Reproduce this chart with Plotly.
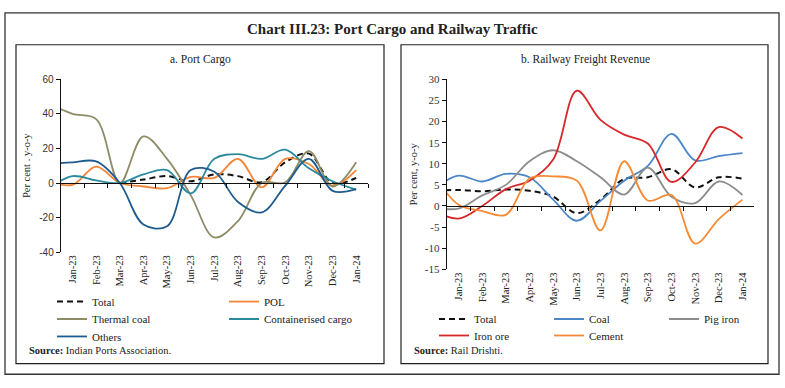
import plotly.graph_objects as go

# ---------------- data ----------------
# leading "Dec-22" point sits left of the visible axis range (lines run in from the axis edge)
months = ["Dec-22", "Jan-23", "Feb-23", "Mar-23", "Apr-23", "May-23", "Jun-23", "Jul-23",
          "Aug-23", "Sep-23", "Oct-23", "Nov-23", "Dec-23", "Jan-24"]

# Panel a: Port Cargo (per cent, y-o-y)
port_total = [None, None, None, 0, 2, 4, 1, 5, 4, 0.5, 12, 17, 0, 3]
port_pol = [1, -1, 9.5, 0, -2, -3, 3.5, 3, 14, -2.5, 14, 11, -1.5, 7.5]
port_thermal = [46, 40, 37, 0, 27, 14, -7, -31.5, -22, 0, 0.4, 18.5, -2, 12]
port_container = [-3, 4, 1.5, 0, 5, 7.5, -6, 14, 16.7, 14, 19.3, 8.5, 1, -3.8]
port_others = [11, 12, 12.5, 0, -24, -25, 7.5, 6.5, -11, -17, -1.5, 14, -4.5, -3.5]

# Panel b: Railway Freight Revenue (per cent, y-o-y)
rail_total = [3.6, 3.8, 3.5, 3.9, 3.6, 2.2, -1.7, 1.5, 6.4, 6.8, 8.7, 4.4, 6.8, 6.5]
rail_coal = [4.2, 7.2, 5.8, 7.6, 6.8, 1.5, -3.5, 1.2, 6, 9.5, 17.1, 10.8, 11.8, 12.5]
rail_pig = [-0.4, -0.6, 2.5, 5, 10.6, 13.2, 10.6, 6.8, 2.7, 9.1, 2.2, 0.7, 5.8, 2.6]
rail_ironore = [-1.3, -3, 0, 4, 6, 11, 27.3, 20.4, 16.9, 14.8, 5.7, 10.3, 18.7, 16]
rail_cement = [7, 0.3, -1.2, -2.1, 6.5, 7, 6, -5.8, 10.6, 1.3, 2.6, -8.9, -3.1, 1.5]

# axis ticks
port_ticks = [-40, -20, 0, 20, 40, 60]
port_ticklabels = ["-40", "-20", "0", "20", "40", "60"]
rail_ticks = [-15, -10, -5, 0, 5, 10, 15, 20, 25, 30]
rail_ticklabels = ["-15", "-10", "-5", "0", "5", "10", "15", "20", "25", "30"]

port_range = [-40, 60]
rail_range = [-15, 30]

# ---------------- layout helpers ----------------
W, H = 785, 388
def fx(px):
    return px / W
def fy(py):
    return 1 - py / H

serif = "Liberation Serif"
sans = "Liberation Sans"
txt = "#222222"

left_dom_x = [fx(60.7), fx(368.0)]
left_dom_y = [fy(254.0), fy(75.7)]
right_dom_x = [fx(446.7), fx(754.3)]
right_dom_y = [fy(271.7), fy(75.7)]

def zero_pos(dom, rng):
    return dom[0] + (0 - rng[0]) / (rng[1] - rng[0]) * (dom[1] - dom[0])

xr = [0.5, len(months) - 0.5]
dash_total = "6px,4px"

fig = go.Figure()

def add_line(x, y, name, color, legend, xa, ya, dash=None, width=1.8):
    fig.add_trace(go.Scatter(
        x=x, y=y, name=name, mode="lines", legend=legend,
        line=dict(color=color, width=width, shape="spline", smoothing=1.0,
                  dash=dash if dash else "solid"),
        xaxis=xa, yaxis=ya, connectgaps=False, hoverinfo="skip"))

# left panel traces
add_line(months, port_total, "Total", "#111111", "legend", "x", "y", dash=dash_total, width=2)
add_line(months, port_pol, "POL", "#F58536", "legend", "x", "y")
add_line(months, port_thermal, "Thermal coal", "#8E8B67", "legend2", "x", "y")
add_line(months, port_container, "Containerised cargo", "#2B8A9E", "legend2", "x", "y")
add_line(months, port_others, "Others", "#1F5B8E", "legend3", "x", "y")

# right panel traces
add_line(months, rail_total, "Total", "#111111", "legend4", "x2", "y2", dash=dash_total, width=2)
add_line(months, rail_coal, "Coal", "#4A86C8", "legend4", "x2", "y2")
add_line(months, rail_pig, "Pig iron", "#8C8C8C", "legend4", "x2", "y2")
add_line(months, rail_ironore, "Iron ore", "#D7282B", "legend5", "x2", "y2")
add_line(months, rail_cement, "Cement", "#F68B35", "legend5", "x2", "y2")

# invisible traces to carry the zero-line axes
fig.add_trace(go.Scatter(x=months, y=[None] * len(months), xaxis="x3", yaxis="y",
                         showlegend=False, hoverinfo="skip", mode="lines"))
fig.add_trace(go.Scatter(x=months, y=[None] * len(months), xaxis="x4", yaxis="y2",
                         showlegend=False, hoverinfo="skip", mode="lines"))

label_axis = dict(type="category", range=xr, showline=False, ticks="", showgrid=False,
                  zeroline=False, tickangle=-90, tickfont=dict(family=serif, size=10.5, color=txt))
zero_axis = dict(type="category", range=xr, showline=True, linecolor="#111111", linewidth=1,
                 ticks="outside", ticklen=4, tickcolor="#111111", tickwidth=1,
                 tickson="boundaries", showticklabels=False, showgrid=False, zeroline=False,
                 anchor="free")

fig.update_layout(
    width=W, height=H, margin=dict(l=0, r=0, t=0, b=0, pad=0), autosize=False,
    paper_bgcolor="white", plot_bgcolor="rgba(0,0,0,0)",
    xaxis=dict(label_axis, domain=left_dom_x, anchor="y"),
    xaxis2=dict(label_axis, domain=right_dom_x, anchor="y2"),
    xaxis3=dict(zero_axis, overlaying="x", domain=left_dom_x,
                position=zero_pos(left_dom_y, port_range)),
    xaxis4=dict(zero_axis, overlaying="x2", domain=right_dom_x,
                position=zero_pos(right_dom_y, rail_range)),
    yaxis=dict(domain=left_dom_y, anchor="x", range=port_range,
               tickmode="array", tickvals=port_ticks, ticktext=port_ticklabels,
               showline=True, linecolor="#111111", linewidth=1, ticks="outside", ticklen=4,
               tickcolor="#111111", showgrid=False, zeroline=False,
               tickfont=dict(family=sans, size=10, color="#333333"),
               title=dict(text="Per cent . y-o-y", standoff=6,
                          font=dict(family=serif, size=10.5, color=txt))),
    yaxis2=dict(domain=right_dom_y, anchor="x2", range=rail_range,
                tickmode="array", tickvals=rail_ticks, ticktext=rail_ticklabels,
                showline=True, linecolor="#111111", linewidth=1, ticks="outside", ticklen=4,
                tickcolor="#111111", showgrid=False, zeroline=False,
                tickfont=dict(family=serif, size=11, color="#333333"),
                title=dict(text="Per cent, y-o-y", standoff=5,
                           font=dict(family=serif, size=10.5, color=txt))),
)

def legend_cfg(x_px, y_px, entry):
    return dict(orientation="h", x=fx(x_px), y=fy(y_px), xanchor="left", yanchor="middle",
                entrywidth=entry, entrywidthmode="pixels", bgcolor="rgba(0,0,0,0)",
                font=dict(family=serif, size=11, color=txt), itemwidth=30, tracegroupgap=0,
                traceorder="normal")

fig.update_layout(
    legend=legend_cfg(52, 305, 127),
    legend2=legend_cfg(52, 323, 127),
    legend3=legend_cfg(52, 341, 127),
    legend4=legend_cfg(434, 323, 70),
    legend5=legend_cfg(434, 340, 70),
)

# frames
shapes = [
    dict(type="rect", xref="paper", yref="paper", x0=fx(5), x1=fx(779), y0=fy(380), y1=fy(7),
         line=dict(color="#333333", width=1.3)),
    dict(type="rect", xref="paper", yref="paper", x0=fx(16), x1=fx(384), y0=fy(369), y1=fy(40),
         line=dict(color="#222222", width=1.2)),
    dict(type="rect", xref="paper", yref="paper", x0=fx(401), x1=fx(768), y0=fy(369), y1=fy(40),
         line=dict(color="#222222", width=1.2)),
]
fig.update_layout(shapes=shapes)

annotations = [
    dict(text="<b>Chart III.23: Port Cargo and Railway Traffic</b>", x=0.5, y=fy(24),
         xref="paper", yref="paper", showarrow=False, xanchor="center", yanchor="middle",
         font=dict(family=serif, size=15, color=txt)),
    dict(text="a. Port Cargo", x=fx(200), y=fy(55), xref="paper", yref="paper",
         showarrow=False, xanchor="center", yanchor="middle",
         font=dict(family=serif, size=11.5, color=txt)),
    dict(text="b. Railway Freight Revenue", x=fx(585), y=fy(55), xref="paper", yref="paper",
         showarrow=False, xanchor="center", yanchor="middle",
         font=dict(family=serif, size=11.5, color=txt)),
    dict(text="<b>Source:</b> Indian Ports Association.", x=fx(27), y=fy(356),
         xref="paper", yref="paper", showarrow=False, xanchor="left", yanchor="middle",
         font=dict(family=serif, size=10.5, color=txt)),
    dict(text="<b>Source:</b> Rail Drishti.", x=fx(412), y=fy(356),
         xref="paper", yref="paper", showarrow=False, xanchor="left", yanchor="middle",
         font=dict(family=serif, size=10.5, color=txt)),
]
fig.update_layout(annotations=annotations)

fig.write_html(
    "out.html",
    config={"displayModeBar": False},
    post_script="document.body.style.margin='0px';document.body.style.padding='0px';"
                "document.documentElement.style.overflow='hidden';",
)
